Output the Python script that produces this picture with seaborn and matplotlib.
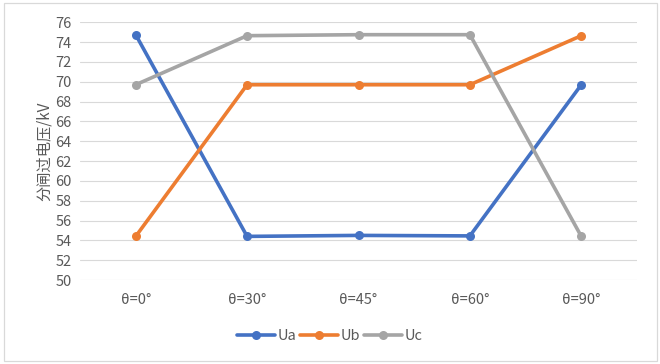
import numpy as np
import pandas as pd
import matplotlib
matplotlib.use("Agg")
import matplotlib.pyplot as plt
import seaborn as sns
from matplotlib.patches import Rectangle

angles = ['θ=0°', 'θ=30°', 'θ=45°', 'θ=60°', 'θ=90°']
ua = [74.75, 54.4, 54.5, 54.45, 69.7]
ub = [54.4, 69.7, 69.7, 69.7, 74.65]
uc = [69.7, 74.65, 74.75, 74.75, 54.4]
series_names = ['Ua', 'Ub', 'Uc']
colors = {'Ua': '#4472C4', 'Ub': '#ED7D31', 'Uc': '#A5A5A5'}
y_ticks = list(range(50, 77, 2))

df = pd.DataFrame({
    'angle': angles * 3,
    'value': ua + ub + uc,
    'series': sum([[s] * len(angles) for s in series_names], []),
})

sns.set_style("white")
plt.rcParams['font.family'] = ['Noto Sans CJK SC', 'DejaVu Sans']

fig = plt.figure(figsize=(6.6, 3.64), dpi=100)
# chart border like the office chart frame
fig.patches.append(Rectangle((4 / 660, 3 / 364), 653 / 660, 358 / 364, transform=fig.transFigure,
                             fill=False, edgecolor='#d9d9d9', linewidth=0.9))
ax = fig.add_axes([80 / 660, 1 - 280 / 364, 557 / 660, (280 - 22.3) / 364])

sns.lineplot(data=df, x='angle', y='value', hue='series', palette=colors,
             marker='o', markersize=6.5, markeredgewidth=0, linewidth=2.6,
             sort=False, ax=ax, legend=False)

ax.set_xlim(-0.5, len(angles) - 0.5)
ax.set_ylim(50, 76)
ax.set_yticks(y_ticks)
ax.set_yticklabels([str(t) for t in y_ticks], color='#595959', fontsize=10.5)
ax.set_xticks(range(len(angles)))
ax.set_xticklabels(angles, color='#595959', fontsize=10.5)
ax.tick_params(axis='y', length=0, pad=6)
ax.tick_params(axis='x', length=0, pad=9)
ax.set_xlabel('')
ax.set_ylabel('分闸过电压/kV', color='#595959', fontsize=11, labelpad=2)
ax.grid(axis='y', color='#d9d9d9', linewidth=0.8)
ax.set_axisbelow(True)
for sp in ax.spines.values():
    sp.set_visible(False)

handles = [plt.Line2D([], [], color=colors[s], marker='o', markersize=6.5,
                      markeredgewidth=0, linewidth=2.6) for s in series_names]
fig.legend(handles, series_names, loc='center', bbox_to_anchor=(0.5, 1 - 336 / 364),
           ncol=3, frameon=False, fontsize=10.5, handlelength=2.6, handletextpad=0.2,
           columnspacing=0.25, labelcolor='#595959')

fig.savefig('out.png', dpi=100)
